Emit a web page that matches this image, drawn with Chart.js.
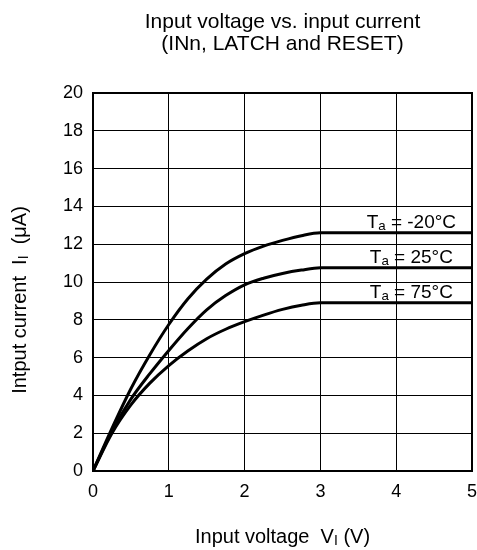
<!DOCTYPE html>
<html>
<head>
<meta charset="utf-8">
<script src="https://cdn.jsdelivr.net/npm/chart.js@4/dist/chart.umd.min.js"></script>
<style>
html, body { margin: 0; padding: 0; background: #fff; }
#wrap { width: 477px; height: 550px; }
</style>
</head>
<body>
<div id="wrap"><canvas id="myChart" width="477" height="550"></canvas></div>
<script>
// input voltage (V)
var voltages = [0, 0.25, 0.5, 0.75, 1, 1.25, 1.5, 1.75, 2, 2.25, 2.5, 2.75, 3, 5];
// input current (uA) for each temperature
var currentMinus20 = [0, 2.25, 4.35, 6.15, 7.75, 9.1, 10.15, 10.95, 11.5, 11.9, 12.2, 12.45, 12.6, 12.6];
var current25 = [0, 2.1, 3.8, 5.15, 6.38, 7.53, 8.53, 9.28, 9.85, 10.2, 10.45, 10.63, 10.75, 10.75];
var current75 = [0, 2.0, 3.5, 4.65, 5.58, 6.35, 7.0, 7.5, 7.9, 8.25, 8.55, 8.77, 8.9, 8.9];
var tempLabels = ['-20°C', '25°C', '75°C'];
var xTicks = [0, 1, 2, 3, 4, 5];
var yTicks = [0, 2, 4, 6, 8, 10, 12, 14, 16, 18, 20];

var FONT = '"Liberation Sans", Arial, sans-serif';

function pts(ys) {
	var out = [];
	for (var i = 0; i < voltages.length; i++) out.push({x: voltages[i], y: ys[i]});
	return out;
}

function ds(ys, label) {
	return {
		label: label,
		data: pts(ys),
		borderColor: '#000',
		borderWidth: 3,
		pointRadius: 0,
		fill: false,
		cubicInterpolationMode: 'monotone'
	};
}

// text with a subscript part: parts = [[text, isSub], ...]
function subText(ctx, parts, x, y, size, align) {
	var w = 0, i;
	for (i = 0; i < parts.length; i++) {
		ctx.font = (parts[i][1] ? size * 0.7 : size) + 'px ' + FONT;
		w += ctx.measureText(parts[i][0]).width;
	}
	var cx = align === 'center' ? x - w / 2 : x;
	ctx.textAlign = 'left';
	ctx.textBaseline = 'alphabetic';
	for (i = 0; i < parts.length; i++) {
		ctx.font = (parts[i][1] ? size * 0.7 : size) + 'px ' + FONT;
		ctx.fillText(parts[i][0], cx, y + (parts[i][1] ? size * 0.12 : 0));
		cx += ctx.measureText(parts[i][0]).width;
	}
}

var extras = {
	id: 'extras',
	afterDraw: function (chart) {
		var ctx = chart.ctx, a = chart.chartArea;
		var xs = chart.scales.x, ys = chart.scales.y;
		ctx.save();
		ctx.fillStyle = '#000';
		// frame
		ctx.strokeStyle = '#000';
		ctx.lineWidth = 2;
		ctx.strokeRect(a.left, a.top, a.right - a.left, a.bottom - a.top);
		// title
		ctx.font = '21px ' + FONT;
		ctx.textAlign = 'center';
		ctx.textBaseline = 'alphabetic';
		var mid = (a.left + a.right) / 2;
		ctx.fillText('Input voltage vs. input current', mid, 28);
		ctx.fillText('(INn, LATCH and RESET)', mid, 50);
		// temperature labels above the flat ends
		var ends = [currentMinus20, current25, current75];
		for (var i = 0; i < ends.length; i++) {
			var yv = ys.getPixelForValue(ends[i][ends[i].length - 1]) - 5;
			subText(ctx, [['T', false], ['a', true], [' = ' + tempLabels[i], false]], xs.getPixelForValue(4.2), yv, 19, 'center');
		}
		// x axis title
		subText(ctx, [['Input voltage  V', false], ['I', true], [' (V)', false]], mid, 543, 20, 'center');
		// y axis title
		ctx.translate(26, 300);
		ctx.rotate(-Math.PI / 2);
		subText(ctx, [['Intput current  I', false], ['I', true], ['  (\u03bcA)', false]], 0, 0, 20, 'center');
		ctx.restore();
	}
};

var myChart = new Chart(document.getElementById('myChart').getContext('2d'), {
	type: 'line',
	data: {
		datasets: [ds(currentMinus20, 'Ta = -20°C'), ds(current25, 'Ta = 25°C'), ds(current75, 'Ta = 75°C')]
	},
	options: {
		responsive: false,
		animation: false,
		layout: { padding: { top: 93, right: 0, left: 0, bottom: 0 } },
		plugins: { legend: { display: false }, tooltip: { enabled: false } },
		scales: {
			x: {
				type: 'linear', min: 0, max: 5,
				afterBuildTicks: function (s) { s.ticks = xTicks.map(function (v) { return {value: v}; }); },
				afterFit: function (s) { s.height = 79; s.paddingRight = 5; },
				grid: { color: '#000', lineWidth: 1, drawTicks: false },
				border: { color: '#000', width: 2 },
				ticks: { color: '#000', font: { family: FONT, size: 18 }, padding: 10, maxRotation: 0 }
			},
			y: {
				min: 0, max: 20,
				afterBuildTicks: function (s) { s.ticks = yTicks.map(function (v) { return {value: v}; }); },
				afterFit: function (s) { s.width = 93; },
				grid: { color: '#000', lineWidth: 1, drawTicks: false },
				border: { color: '#000', width: 2 },
				ticks: { color: '#000', font: { family: FONT, size: 18 }, padding: 10 }
			}
		}
	},
	plugins: [extras]
});
</script>
</body>
</html>
